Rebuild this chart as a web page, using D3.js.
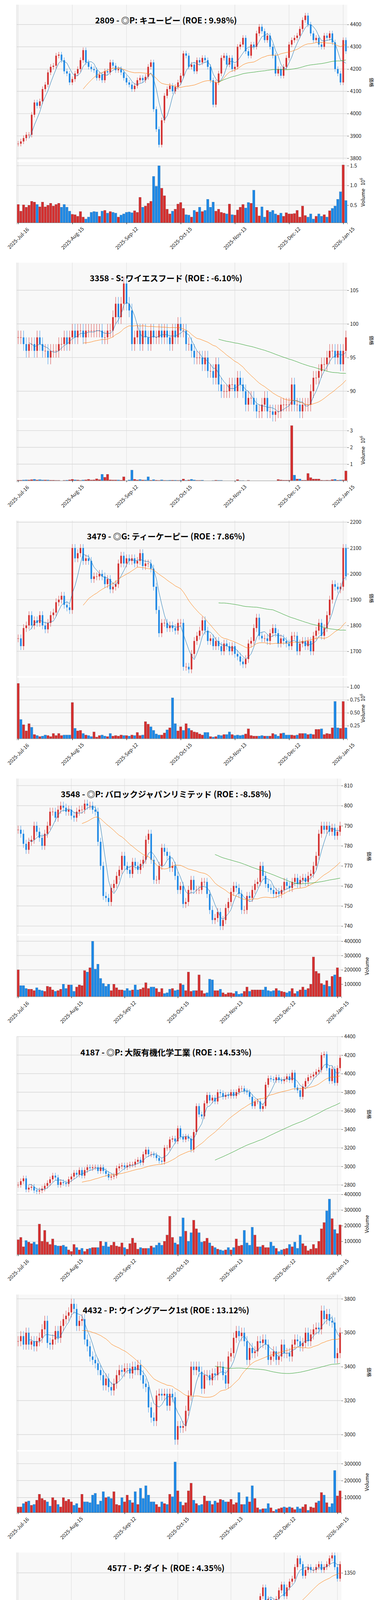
<!DOCTYPE html>
<html><head><meta charset="utf-8">
<script src="https://cdn.jsdelivr.net/npm/d3@7"></script>
<style>html,body{margin:0;padding:0;background:#fff;width:960px;height:6604px;overflow:hidden}#c{display:block}svg text{font-family:"Noto Sans CJK JP","Noto Sans",sans-serif}</style>
</head><body><svg id="c" width="960" height="6604" viewBox="0 0 960 6604"></svg>
<script>
const titles = ["2809 - ◎P: キユーピー (ROE : 9.98%)","3358 - S: ワイエスフード (ROE : -6.10%)","3479 - ◎G: ティーケーピー (ROE : 7.86%)","3548 - ◎P: バロックジャパンリミテッド (ROE : -8.58%)","4187 - ◎P: 大阪有機化学工業 (ROE : 14.53%)","4432 - P: ウイングアーク1st (ROE : 13.12%)","4577 - P: ダイト (ROE : 4.35%)","4768 - P: 大塚商会 (ROE : 17.51%)","5108 - ◎P: ブリヂストン (ROE : 6.88%)","5334 - ◎P: 日本特殊陶業 (ROE : 14.45%)"];
const dateLabels = ["2025-Jul-16","2025-Aug-15","2025-Sep-12","2025-Oct-15","2025-Nov-13","2025-Dec-12","2026-Jan-15"];
const dateIdx = [0,20,40,60,80,100,120];

const closes = [
[3865,3875,3890,3905,3905,3995,4050,4035,4055,4110,4130,4185,4210,4215,4260,4265,4240,4190,4180,4140,4155,4180,4200,4240,4285,4230,4210,4200,4195,4160,4175,4150,4190,4185,4230,4215,4195,4200,4185,4160,4140,4130,4110,4125,4150,4160,4150,4165,4210,4230,4020,3930,3860,3970,4080,4110,4125,4100,4120,4140,4170,4270,4260,4210,4220,4190,4240,4230,4250,4240,4210,4150,4040,4140,4180,4250,4260,4220,4250,4200,4210,4300,4310,4340,4280,4260,4310,4300,4360,4390,4370,4330,4350,4300,4260,4180,4200,4170,4210,4250,4310,4330,4340,4350,4380,4420,4440,4400,4360,4330,4340,4310,4300,4350,4340,4360,4320,4200,4180,4140,4330,4280],
[98,98,97,96,97,97,96,98,97,96,96,95,96,96,96,97,97,98,97,98,99,98,99,99,98,99,99,99,99,99,99,98,98,99,99,101,103,101,103,106,103,102,97,98,99,97,99,98,97,99,98,98,99,98,99,98,97,99,98,100,99,99,97,97,96,95,95,95,94,95,93,93,92,94,91,90,90,90,91,91,90,92,91,90,88,89,89,88,87,87,88,89,87,87,86.5,87,87,88,88,88,88,91,88,88,87,88,88,88,90,92,92,93,94,94,95,96,96,95,96,94,96,98],
[1750,1720,1790,1800,1840,1800,1820,1810,1840,1800,1785,1810,1840,1850,1890,1900,1915,1880,1870,1860,2100,2060,2080,2100,2050,2060,2050,1980,1990,1990,2000,1990,1960,1980,1940,1950,1960,2040,2070,2040,2060,2050,2060,2040,2050,2080,2030,2040,2040,2020,1950,1860,1770,1810,1810,1790,1800,1790,1780,1810,1810,1640,1640,1630,1690,1740,1760,1780,1820,1780,1740,1750,1720,1740,1720,1700,1730,1720,1700,1720,1690,1680,1660,1650,1670,1730,1740,1790,1830,1760,1750,1750,1740,1770,1790,1770,1730,1750,1740,1730,1720,1760,1760,1700,1730,1740,1720,1740,1700,1760,1780,1810,1760,1790,1840,1900,1960,1950,1940,1950,2100,1990],
[788,786,781,778,782,783,790,787,784,780,786,790,797,797,794,798,800,799,797,798,795,794,797,798,798,801,800,800,798,797,782,770,755,754,752,759,761,765,768,775,770,768,766,772,770,768,771,773,783,786,773,763,763,770,779,777,775,769,770,765,758,760,751,752,758,763,758,758,758,762,762,756,748,743,744,747,740,743,749,752,757,760,759,756,748,748,755,754,758,761,762,770,765,761,759,758,756,757,756,758,762,760,759,762,764,761,763,764,762,765,766,770,775,786,790,788,790,787,789,785,787,790],
[2800,2840,2870,2750,2770,2780,2740,2730,2740,2760,2790,2820,2860,2900,2880,2800,2830,2820,2810,2860,2890,2930,2910,2960,2900,2960,2990,2980,2990,2990,2950,2990,2950,2920,2880,2890,2900,2980,3000,3010,2990,3010,3020,3020,3050,3070,3040,3130,3180,3130,3130,3120,3090,3060,3050,3200,3200,3290,3300,3270,3410,3320,3290,3320,3300,3180,3370,3650,3560,3540,3680,3770,3710,3740,3700,3800,3790,3750,3770,3760,3800,3760,3800,3840,3840,3810,3800,3750,3650,3700,3700,3620,3650,3880,3950,3940,3930,3960,3930,3920,3940,3970,3930,4010,3850,3820,3750,3860,3920,3960,3970,3990,4020,4040,4200,4210,4060,3920,4050,3900,4060,4170],
[3550,3580,3530,3600,3530,3550,3520,3550,3570,3620,3670,3540,3530,3560,3610,3570,3640,3680,3700,3720,3770,3740,3640,3670,3680,3560,3520,3460,3440,3420,3380,3350,3290,3330,3280,3260,3300,3350,3380,3370,3390,3390,3360,3400,3380,3410,3350,3300,3280,3160,3100,3080,3230,3240,3230,3240,3170,3240,3220,2970,3050,3040,3050,3140,3230,3400,3380,3400,3370,3270,3350,3350,3320,3360,3350,3400,3400,3350,3300,3460,3480,3570,3610,3580,3600,3550,3440,3510,3480,3490,3550,3540,3560,3530,3440,3460,3490,3440,3460,3530,3480,3480,3460,3530,3560,3550,3520,3540,3600,3550,3590,3620,3630,3620,3730,3680,3710,3670,3660,3450,3480,3600],
[1130,1125,1130,1125,1130,1140,1170,1180,1175,1180,1190,1200,1195,1205,1210,1220,1225,1235,1235,1255,1260,1265,1255,1250,1255,1230,1225,1215,1215,1220,1210,1215,1215,1205,1210,1215,1220,1225,1215,1190,1210,1190,1190,1180,1195,1205,1210,1230,1235,1240,1225,1165,1175,1185,1195,1190,1185,1175,1170,1145,1175,1215,1210,1215,1220,1225,1230,1230,1220,1215,1210,1200,1200,1205,1220,1225,1230,1205,1200,1210,1220,1230,1240,1245,1245,1235,1240,1250,1260,1280,1290,1310,1325,1300,1305,1300,1300,1305,1320,1330,1310,1325,1335,1340,1360,1375,1365,1345,1355,1360,1355,1355,1360,1365,1355,1360,1365,1375,1380,1360,1340,1365],
[2800,2870,2830,2790,2780,2830,2840,2820,2820,2830,2820,2860,3160,3230,3120,3100,3120,3080,3110,3060,3040,3090,3070,3080,3090,3080,3020,2980,2950,2980,2960,2990,2980,2960,3010,3010,3040,3060,3040,3060,3100,3140,3130,3110,3130,3090,3080,3090,3050,3030,3060,2990,2980,3010,3060,3070,3030,3020,3000,2960,2970,2960,2950,2990,3050,3020,3030,3050,3040,3060,2960,2930,2900,2950,3010,3000,2990,3000,3030,2970,2990,2960,2950,2930,2960,3030,3030,3030,3070,3080,3060,3060,3010,3140,3140,3150,3170,3200,3210,3180,3270,3240,3250,3260,3270,3280,3230,3250,3240,3220,3230,3240,3220,3220,3180,3210,3200,3230,3250,3230,3180,3230],
[2960,2970,2950,2960,3000,3120,3080,3060,3030,3000,3010,3050,3030,3020,3050,3090,3060,3080,3230,3260,3280,3230,3250,3260,3260,3260,3280,3290,3320,3350,3340,3320,3290,3300,3300,3340,3360,3340,3380,3410,3440,3450,3440,3420,3440,3440,3430,3460,3420,3420,3400,3360,3360,3350,3360,3420,3480,3500,3450,3420,3350,3250,3230,3210,3220,3300,3310,3300,3320,3370,3360,3350,3330,3310,3320,3370,3400,3380,3360,3420,3480,3560,3540,3540,3480,3500,3510,3540,3560,3540,3550,3590,3550,3570,3560,3580,3510,3480,3470,3500,3530,3580,3590,3550,3510,3520,3540,3520,3530,3480,3500,3530,3530,3540,3530,3510,3520,3500,3490,3460,3490,3510],
[4950,4960,4950,4900,5050,5130,5120,5100,5030,5070,5130,5080,4850,4790,4840,4890,4880,4940,5040,5200,5240,5160,5340,5300,5280,5180,5230,5280,5210,5250,5250,5220,5200,5230,5430,5290,5390,5420,5460,5470,5510,5560,5530,5700,5750,5740,5800,5720,5830,5780,5720,5780,5750,5600,5750,5780,6000,6080,6040,6100,6050,6150,5880,5950,5900,5880,5990,6080,6170,6230,6250,6360,6290,6300,6310,6320,6700,6580,6600,6500,6600,6580,6510,6540,6600,6700,6580,6600,6460,6380,6470,6560,6590,6650,6670,6690,6650,6670,6590,6650,6700,6750,6670,6790,6800,6800,6740,6650,6690,6810,6900,6870,6900,6890,7000,7080,6920,6800,6860,6930,6950,6950]
];
const volumes = [
[.52,.35,.51,.45,.5,.6,.58,.52,.46,.58,.46,.5,.55,.48,.52,.55,.45,.52,.45,.35,.27,.26,.22,.34,.2,.15,.2,.32,.34,.33,.22,.35,.37,.3,.34,.32,.3,.2,.25,.28,.32,.33,.31,.36,.32,.7,.45,.48,.55,.6,1.23,.98,1.5,.93,.74,.4,.28,.35,.4,.53,.57,.42,.26,.25,.2,.37,.33,.45,.34,.37,.65,.45,.58,.35,.4,.32,.3,.28,.53,.26,.25,.38,.45,.52,.43,.57,.55,.88,.45,.23,.46,.2,.37,.33,.37,.28,.25,.3,.22,.31,.28,.28,.29,.37,.2,.48,.24,.2,.28,.15,.22,.28,.22,.26,.2,.36,.42,.48,.65,.84,1.52,.62],
[.05,.05,.06,.07,.06,.08,.1,.06,.08,.06,.06,.06,.05,.05,.04,.04,.02,.04,.05,.07,.1,.07,.06,.04,.06,.07,.1,.06,.07,.13,.08,.4,.22,.4,.07,.06,.06,.06,.05,.25,.02,.06,.65,.1,.06,.09,.06,.06,.25,.05,.08,.05,.04,.07,.04,.04,.05,.05,.05,.04,.05,.12,.04,.06,.1,.06,.04,.04,.05,.02,.02,.02,.03,.05,.04,.04,.02,.02,.02,.01,.02,.08,.03,.03,.02,.04,.02,.02,.02,.02,.02,.02,.02,.02,.02,.02,.09,.06,.05,.05,.05,3.3,.35,.12,.12,.05,.05,.45,.2,.12,.12,.12,.05,.04,.05,.04,.08,.1,.05,.06,.06,.6],
[1.07,.37,.27,.15,.29,.22,.08,.06,.04,.05,.07,.06,.04,.1,.06,.1,.06,.07,.07,.07,.7,.2,.15,.16,.1,.07,.06,.04,.13,.03,.06,.07,.05,.04,.1,.05,.06,.05,.07,.06,.06,.05,.07,.06,.12,.06,.07,.33,.28,.23,.16,.09,.07,.07,.11,.17,.21,.79,.29,.15,.23,.16,.29,.2,.16,.13,.12,.09,.07,.12,.12,.04,.03,.04,.07,.06,.08,.08,.13,.08,.06,.07,.06,.07,.09,.19,.06,.05,.05,.05,.06,.05,.05,.05,.1,.08,.05,.1,.11,.07,.07,.07,.06,.07,.1,.1,.1,.08,.09,.08,.18,.18,.19,.08,.1,.09,.21,.72,.21,.2,.72,.21],
[200,90,90,70,65,65,55,75,60,55,50,85,80,60,50,55,65,100,70,95,95,50,80,95,90,195,185,215,400,205,240,140,105,85,100,55,100,75,60,60,55,70,55,60,95,60,65,75,110,70,80,80,70,45,70,35,40,65,70,55,60,105,95,55,185,50,55,55,165,55,35,40,135,130,55,55,65,40,30,40,40,35,50,30,35,50,80,50,60,60,60,60,60,80,55,50,55,70,55,50,45,40,50,70,35,50,60,80,60,70,100,290,190,175,105,95,125,85,155,165,215,150],
[110,125,65,105,95,85,95,80,210,100,170,95,80,115,75,70,70,75,65,45,35,80,60,45,55,35,50,55,60,60,60,100,70,95,65,75,95,70,65,90,60,50,85,120,90,50,60,55,55,55,70,60,75,90,75,100,140,260,125,90,80,130,250,165,100,155,235,180,155,95,100,120,90,70,60,50,45,40,45,60,45,60,115,70,75,170,90,75,190,140,65,65,75,60,60,95,70,55,35,45,50,55,80,65,95,55,140,85,70,40,50,80,55,100,180,220,295,370,245,175,150,205],
[45,45,65,75,80,55,60,85,120,95,85,75,50,100,85,60,45,100,80,90,75,55,65,40,120,75,75,70,115,125,60,80,135,100,105,95,135,60,55,100,75,115,85,70,135,60,155,95,170,115,75,75,60,45,75,65,60,120,105,310,140,75,55,70,140,185,85,65,55,60,110,80,80,60,80,70,90,85,75,75,90,60,70,130,60,60,105,75,170,95,40,30,35,35,65,40,20,30,35,40,45,40,45,40,30,45,35,45,60,25,45,40,70,80,130,115,70,45,65,260,110,140],
[115,90,80,100,75,95,85,100,90,105,170,85,50,45,40,35,65,55,55,35,45,45,60,25,30,30,30,35,25,35,20,30,25,25,20,20,35,35,30,45,40,35,35,40,45,40,195,40,35,60,60,40,35,65,50,35,50,30,30,40,30,30,35,95,290,155,60,60,40,40,45,30,40,35,35,45,35,70,85,45,45,30,35,50,45,55,50,95,50,45,30,50,60,140,60,80,75,85,55,60,70,70,140,75,55,70,55,75,65,60,60,45,30,40,45,55,80,85,100,100,210,110],
[.6,.65,.6,.65,1.05,.95,.6,.7,.55,.9,.75,1.1,4.4,1.6,1.35,1.4,1.0,1.05,.95,1.1,.95,.75,.95,.7,.95,.85,.55,.75,2.2,1.15,.95,1.25,.6,.65,1.0,.9,.85,.9,.8,.75,1.25,1.3,1.1,.9,1.4,.85,1.05,1.15,.95,1.3,1.2,1.25,.7,.95,.85,.9,.95,1.0,.8,.85,.75,.85,.8,.65,.95,.8,.9,1.0,1.15,1.35,1.05,1.85,1.35,1.0,.95,.9,.9,.95,.8,1.0,.8,1.0,.8,.95,.7,2.35,1.05,.75,.55,.55,.6,1.2,1.05,.9,.85,.75,1.0,.95,1.0,1.05,.95,1.0,.85,.8,.75,.6,1.2,.55,.45,.35,.2,.3,.55,.55,.95,.9,.85,.8,.8,1.05,1.0,1.45],
[2.5,2.4,1.8,2.5,7.7,7.2,3.7,2.9,2.5,2.4,2.8,2.6,2.0,1.6,1.6,2.2,12.1,6.5,3.0,2.5,2.2,2.5,2.5,3.2,2.8,3.8,3.8,3.9,3.1,2.9,2.9,1.7,2.5,3.3,2.8,3.2,3.1,2.7,2.5,3.8,2.9,2.8,2.2,6.7,2.3,2.4,2.9,3.3,3.8,4.5,3.8,3.5,2.9,3.1,4.8,4.8,3.9,3.6,6.5,7.6,9.8,4.9,4.2,3.8,3.5,3.4,3.5,3.0,3.1,3.4,3.6,3.6,4.0,4.3,4.7,4.8,3.0,3.1,3.2,9.3,4.7,3.8,3.5,3.4,2.7,6.7,3.5,3.7,2.8,2.4,2.6,2.3,3.3,6.7,3.3,2.8,3.6,2.4,3.8,2.7,3.8,2.6,3.7,2.7,2.7,4.5,1.9,1.7,1.9,.9,1.8,2.2,2.2,2.5,3.0,3.3,3.8,4.5,3.9,5.0,4.0,3.6],
[.5,.45,.35,.42,1.3,.9,.5,.55,.5,.45,.6,1.6,1.1,.6,.7,.6,.75,.95,1.3,.85,.42,.95,.55,.65,.55,.58,.58,.5,.42,.5,.42,.28,1.35,1.0,.55,.55,.5,.65,.6,.55,.65,.9,.92,.75,2.9,.75,.75,.78,.8,.8,.6,.85,.68,.78,.88,.55,.65,.8,.95,.7,.5,.92,.88,.8,.68,.72,.6,.48,.7,.72,1.35,.9,.88,.82,.95,.68,.85,.72,.78,.7,.75,.68,.65,.68,.7,.65,.68,.62,.58,.6,.5,.82,.75,.85,.72,.75,.82,.52,.7,.68,.7,.7,.75,.75,1.1,.72,.75,.5,.3,.4,.3,.42,.55,.7,.8,.95,1.35,1.3,1.0,.88,.95,.95]
];
const volUnit = [1e6,1e6,1e6,1e3,1e3,1e3,1e3,1e6,1e6,1e6];
const wick = [12,1,15,2,30,30,5,15,15,40];
const priceDomain = [[3791,4489],[86,109.1],[1604,2206],[736,813.5],[2723,4400],[2909,3825],[1118,1385],[2777,3320],[2938,3673],[4702,7160]];
const priceTicks = [[3800,3900,4000,4100,4200,4300,4400],[90,95,100,105],[1700,1800,1900,2000,2100,2200],[740,750,760,770,780,790,800,810],[2800,3000,3200,3400,3600,3800,4000,4200,4400],[3000,3200,3400,3600,3800],[1150,1200,1250,1300,1350],[2800,2900,3000,3100,3200,3300],[3000,3100,3200,3300,3400,3500,3600],[5000,5500,6000,6500,7000]];
const volDomain = [[0.057,1.6],[0.02,3.65],[0,1.18],[13,439],[15,405],[12,371],[8,302],[0.1,4.86],[0.48,12.9],[0.12,3.04]];
const volTicks = [[0.5,1.0,1.5],[1,2,3],[0.25,0.5,0.75,1.0],[100,200,300,400],[100,200,300,400],[100,200,300],[100,200,300],[1,2,3,4],[5,10],[1,2,3]];
const volFmt = [".1f","d",".2f","d","d","d","d","d","d","d"];

const UP="#d32f2f", DOWN="#1e88e5";
const svg=d3.select("#c");
const PH=660.4;
function sma(a,n){return a.map((v,i)=>i<n-1?null:d3.mean(a.slice(i-n+1,i+1)));}

closes.forEach((cl,k)=>{
  const y0=k*PH;
  const scaled = volUnit[k]===1e6;
  const left=43, right= scaled?889:874;
  const pTop=y0+12, pBot=y0+410, vTop=y0+414, vBot=y0+570;
  const g=svg.append("g");
  const n=cl.length;
  const x=d3.scaleLinear().domain([-0.5,n-0.5]).range([left,right]);
  const step=(right-left)/n;
  const yp=d3.scaleLinear().domain(priceDomain[k]).range([pBot,pTop]);
  const yv=d3.scaleLinear().domain(volDomain[k]).range([vBot,vTop]);
  g.append("rect").attr("x",left).attr("y",pTop).attr("width",right-left).attr("height",pBot-pTop).attr("fill","#f8f8f8");
  g.append("rect").attr("x",left).attr("y",vTop).attr("width",right-left).attr("height",vBot-vTop).attr("fill","#f8f8f8");
  [[pTop,pBot],[vTop,vBot]].forEach(([a,b])=>{
    g.selectAll(null).data(dateIdx).enter().append("line").attr("x1",d=>x(d)).attr("x2",d=>x(d)).attr("y1",a).attr("y2",b).attr("stroke","#dcdcdc").attr("stroke-width",1);
  });
  g.selectAll(null).data(priceTicks[k]).enter().append("line").attr("x1",left).attr("x2",right).attr("y1",d=>yp(d)).attr("y2",d=>yp(d)).attr("stroke","#d6d6d6").attr("stroke-width",1.4);
  g.selectAll(null).data(volTicks[k]).enter().append("line").attr("x1",left).attr("x2",right).attr("y1",d=>yv(d)).attr("y2",d=>yv(d)).attr("stroke","#d6d6d6").attr("stroke-width",1.4);
  const data=cl.map((c,i)=>{const o=i?cl[i-1]:c;return {i,o,c,h:Math.max(o,c)+wick[k],l:Math.min(o,c)-wick[k],v:volumes[k][i]||0};});
  const bw=step*0.6;
  const cg=g.append("g");
  cg.selectAll(null).data(data).enter().append("line").attr("x1",d=>x(d.i)).attr("x2",d=>x(d.i)).attr("y1",d=>yp(d.h)).attr("y2",d=>yp(d.l)).attr("stroke",d=>d.c>=d.o?UP:DOWN).attr("stroke-width",0.9);
  cg.selectAll(null).data(data).enter().append("rect").attr("x",d=>x(d.i)-bw/2).attr("width",bw).attr("y",d=>yp(Math.max(d.o,d.c))).attr("height",d=>Math.max(1,Math.abs(yp(d.o)-yp(d.c)))).attr("fill",d=>d.c>=d.o?UP:DOWN);
  [[5,"#1f77b4"],[25,"#ff7f0e"],[75,"#2ca02c"]].forEach(([m,col])=>{
    const s=sma(cl,m);
    g.append("path").datum(s.map((v,i)=>[i,v]).filter(d=>d[1]!==null)).attr("fill","none").attr("stroke",col).attr("stroke-width",1)
      .attr("d",d3.line().x(d=>x(d[0])).y(d=>yp(d[1])));
  });
  g.selectAll(null).data(data).enter().append("rect").attr("x",d=>x(d.i)-step*0.45).attr("width",step*0.9).attr("y",d=>yv(d.v)).attr("height",d=>Math.max(0,vBot-yv(d.v))).attr("fill",d=>d.c>=d.o?UP:DOWN).attr("stroke","#345").attr("stroke-width",0.2);
  const ap=g.append("g").attr("transform",`translate(${right},0)`).call(d3.axisRight(yp).tickValues(priceTicks[k]).tickSize(4).tickFormat(d3.format("d")));
  const av=g.append("g").attr("transform",`translate(${right},0)`).call(d3.axisRight(yv).tickValues(volTicks[k]).tickSize(4).tickFormat(d3.format(volFmt[k])));
  if(!scaled) av.selectAll(".tick text").text(d=>String(d*1000));
  [ap,av].forEach(a=>{a.select(".domain").remove();a.selectAll("text").attr("font-size",13).attr("fill","#222");a.selectAll("line").attr("stroke","#444");});
  const ax=g.append("g").attr("transform",`translate(0,${vBot})`).call(d3.axisBottom(x).tickValues(dateIdx).tickSize(4).tickFormat((d,i)=>dateLabels[i]));
  ax.select(".domain").attr("stroke","#888");
  ax.selectAll(".tick text").attr("font-size",13).attr("fill","#222").attr("text-anchor","middle").attr("y",0).attr("dy","0.35em").attr("transform","translate(0,40) rotate(-45)");
  g.append("line").attr("x1",left).attr("x2",left).attr("y1",pTop).attr("y2",vBot).attr("stroke","#ccc");
  g.append("text").attr("transform",`translate(${right+(scaled?57:66)},${(pTop+pBot)/2}) rotate(90)`).attr("text-anchor","middle").attr("font-size",12).text("価格");
  const vl=g.append("text").attr("transform",`translate(${right+(scaled?45:70)},${(vTop+vBot)/2}) rotate(-90)`).attr("text-anchor","middle").attr("font-size",13).attr("font-family","DejaVu Sans");
  vl.append("tspan").text("Volume");
  if(scaled){vl.append("tspan").attr("dx",8).text("10");vl.append("tspan").attr("dy",-6).attr("font-size",9).text("6");}
  g.append("text").attr("x",425).attr("y",y0+60).attr("text-anchor","middle").attr("font-size",21).attr("font-weight","bold").text(titles[k]);
});
</script></body></html>
